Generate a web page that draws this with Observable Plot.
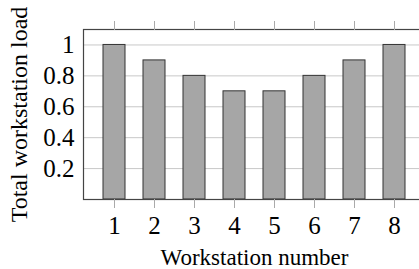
<!DOCTYPE html>
<html>
<head>
<meta charset="utf-8">
<script src="https://cdn.jsdelivr.net/npm/d3@7"></script>
<script src="https://cdn.jsdelivr.net/npm/@observablehq/plot@0.6"></script>
<style>
  html, body { margin: 0; padding: 0; background: white; overflow: hidden; }
  svg text { font-family: "Liberation Serif", serif; }
</style>
</head>
<body>
<div id="chart"></div>
<script>
const stations = [1, 2, 3, 4, 5, 6, 7, 8];
const loads = [1, 0.9, 0.8, 0.7, 0.7, 0.8, 0.9, 1];
const yTicks = [0.2, 0.4, 0.6, 0.8, 1];
const xLabel = "Workstation number";
const yLabel = "Total workstation load";

const data = stations.map((s, i) => ({station: s, load: loads[i]}));
const serif = "'Liberation Serif', serif";

const chart = Plot.plot({
  width: 419,
  height: 269,
  marginLeft: 83,
  marginRight: -6,
  marginTop: 29,
  marginBottom: 70,
  style: {fontFamily: serif, fontSize: "23px", background: "white", color: "black", overflow: "hidden"},
  x: {type: "band", domain: stations, paddingInner: 0.462, paddingOuter: 0.416},
  y: {domain: [0, 1.1]},
  marks: [
    Plot.gridY(yTicks, {stroke: "#c8c8c8", strokeOpacity: 1}),
    Plot.barY(data, {x: "station", y: "load", fill: "#a6a6a6", stroke: "#333", strokeWidth: 1}),
    Plot.frame({stroke: "#444", strokeWidth: 1.2}),
    Plot.axisX({anchor: "bottom", tickSize: 9, stroke: "#aaa", tickFormat: () => "", label: null}),
    Plot.axisX({anchor: "top", tickSize: 9, stroke: "#aaa", tickFormat: () => "", label: null}),
    Plot.axisX({anchor: "bottom", tickSize: 0, tickPadding: 17, fontFamily: serif, fontSize: 25, fontVariant: "normal",
      label: null, fill: "black"}),
    Plot.axisX({anchor: "bottom", tickSize: 0, tickFormat: () => "", fontFamily: serif, fontSize: 23,
      label: xLabel, labelAnchor: "center", labelArrow: "none", labelOffset: 65, fill: "black"}),
    Plot.axisY(yTicks, {anchor: "left", tickSize: 0, tickPadding: 9, fontFamily: serif, fontSize: 25, fontVariant: "normal",
      tickFormat: d => String(d), label: null, fill: "black"}),
    Plot.axisY(yTicks, {anchor: "left", tickSize: 0, tickFormat: () => "", fontFamily: serif, fontSize: 24,
      label: yLabel, labelAnchor: "center", labelArrow: "none", labelOffset: 74, fill: "black"})
  ]
});
document.getElementById("chart").appendChild(chart);
</script>
</body>
</html>
